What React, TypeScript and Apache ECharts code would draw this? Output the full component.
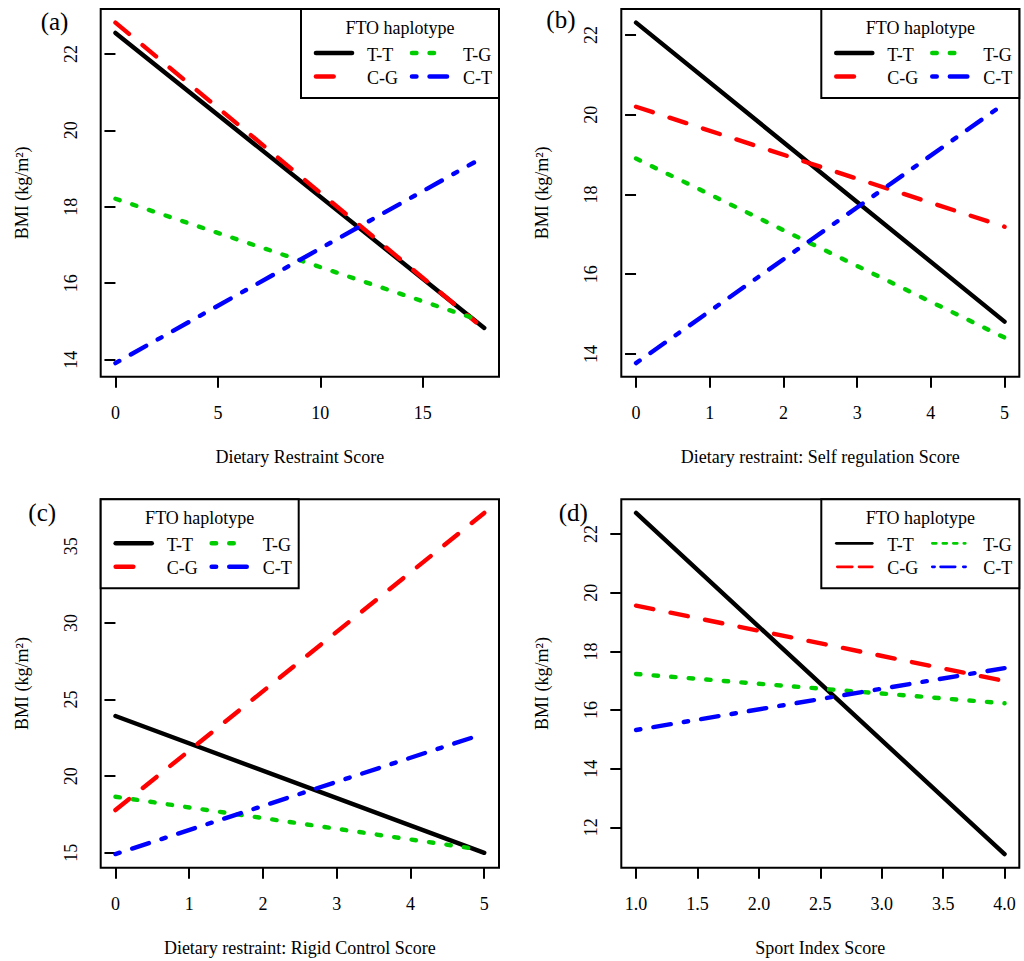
import React, { useEffect, useRef } from "react";
import * as echarts from "echarts";

// ---------- data ----------
const haplotypes = ["T-T", "C-G", "T-G", "C-T"];
const colors = ["#000000", "#FF0000", "#00CD00", "#0000FF"];

const xTicksA = [0, 5, 10, 15];
const yTicksA = [14, 16, 18, 20, 22];
const aTT = [[0, 22.55], [18, 14.83]];
const aCG = [[0, 22.82], [17.6, 14.98]];
const aTG = [[0, 18.21], [17.5, 15.08]];
const aCT = [[0, 13.91], [17.5, 19.16]];

const xTicksB = [0, 1, 2, 3, 4, 5];
const yTicksB = [14, 16, 18, 20, 22];
const bTT = [[0, 22.31], [5, 14.81]];
const bCG = [[0, 20.2], [5, 17.19]];
const bTG = [[0, 18.9], [5, 14.41]];
const bCT = [[0, 13.77], [5, 20.28]];

const xTicksC = [0, 1, 2, 3, 4, 5];
const yTicksC = [15, 20, 25, 30, 35];
const cTT = [[0, 23.93], [5, 15.0]];
const cCG = [[0, 17.79], [5, 37.18]];
const cTG = [[0, 18.66], [4.85, 15.28]];
const cCT = [[0, 14.92], [4.85, 22.54]];

const xTicksD = [1.0, 1.5, 2.0, 2.5, 3.0, 3.5, 4.0];
const yTicksD = [12, 14, 16, 18, 20, 22];
const dTT = [[1, 22.72], [4, 11.09]];
const dCG = [[1, 19.56], [4, 16.99]];
const dTG = [[1, 17.23], [4, 16.23]];
const dCT = [[1, 15.32], [4, 17.43]];

const xTitles = [
  "Dietary Restraint Score",
  "Dietary restraint: Self regulation Score",
  "Dietary restraint: Rigid Control Score",
  "Sport Index Score",
];
const panelLabels = ["(a)", "(b)", "(c)", "(d)"];
const yTitle = "BMI (kg/m\u00B2)";
const legendTitle = "FTO haplotype";

// ---------- layout / style ----------
const FONT = "Liberation Serif";
const L = 4.4;
const dashes: any[] = ["solid", [4 * L, 4 * L], [L, 3 * L], [L, 3 * L, 4 * L, 3 * L]];

const panels = [
  { series: [aTT, aCG, aTG, aCT], xt: xTicksA, yt: yTicksA, grid: { left: 100.7, top: 9, width: 398.3, height: 367.7 }, legendSide: "right", fmt: (v: number) => String(v), label: [40.7, 21] },
  { series: [bTT, bCG, bTG, bCT], xt: xTicksB, yt: yTicksB, grid: { left: 621.3, top: 9, width: 398, height: 367.7 }, legendSide: "right", fmt: (v: number) => String(v), label: [546.3, 19] },
  { series: [cTT, cCG, cTG, cCT], xt: xTicksC, yt: yTicksC, grid: { left: 100.7, top: 499.3, width: 398.3, height: 368.4 }, legendSide: "left", fmt: (v: number) => String(v), label: [28.3, 512] },
  { series: [dTT, dCG, dTG, dCT], xt: xTicksD, yt: yTicksD, grid: { left: 621.3, top: 499.3, width: 398, height: 368.4 }, legendSide: "right", fmt: (v: number) => v.toFixed(1), label: [558.7, 512] },
];

function rRange(vals: number[]) {
  const mn = Math.min(...vals);
  const mx = Math.max(...vals);
  const e = (mx - mn) * 0.04;
  return [mn - e, mx + e];
}

function legendEls(left: number, top: number, thin: boolean) {
  const els: any[] = [];
  const W = 198;
  const H = 89;
  els.push({
    type: "rect",
    z: 100,
    shape: { x: left, y: top, width: W, height: H },
    style: { fill: "#ffffff", stroke: "#000000", lineWidth: 2 },
  });
  els.push({
    type: "text",
    z: 101,
    x: left + 99,
    y: top + 19,
    style: { text: legendTitle, fontSize: 18, fontFamily: FONT, fill: "#000", align: "center", verticalAlign: "middle" },
  });
  const thick = [
    { x1: 15, x2: 51, dash: null },
    { x1: 15, x2: 51, dash: [4 * L, 30] },
    { x1: 111, x2: 144, dash: [L, 3 * L] },
    { x1: 111, x2: 146, dash: [L, 3 * L, 4 * L, 3 * L] },
  ];
  const thinS = [
    { x1: 15, x2: 51, dash: null },
    { x1: 16, x2: 51, dash: [15, 6.7] },
    { x1: 111, x2: 144, dash: [4, 6.5] },
    { x1: 111, x2: 145, dash: [2.3, 6, 14.6, 8.1] },
  ];
  const specs = thin ? thinS : thick;
  const lw = thin ? 2.7 : 4.6;
  haplotypes.forEach((h, i) => {
    const col = i < 2 ? 0 : 1;
    const row = i % 2;
    const sp = specs[i];
    const ly = top + (row === 0 ? 44 : 67.5);
    const style: any = { stroke: colors[i], lineWidth: lw, lineCap: "round" };
    if (sp.dash) style.lineDash = sp.dash;
    els.push({
      type: "line",
      z: 101,
      shape: { x1: left + sp.x1, y1: ly, x2: left + sp.x2, y2: ly },
      style,
    });
    els.push({
      type: "text",
      z: 101,
      x: left + (col === 0 ? 66 : 162),
      y: top + (row === 0 ? 45.5 : 69),
      style: { text: h, fontSize: 18, fontFamily: FONT, fill: "#000", align: "left", verticalAlign: "middle" },
    });
  });
  return els;
}

function buildOption() {
  const grid: any[] = [];
  const xAxis: any[] = [];
  const yAxis: any[] = [];
  const series: any[] = [];
  const graphic: any[] = [];

  panels.forEach((p, i) => {
    grid.push({
      ...p.grid,
      show: true,
      borderColor: "#000",
      borderWidth: 2,
      backgroundColor: "transparent",
      containLabel: false,
    });
    const xs = p.series.flat().map((d) => d[0]);
    const ys = p.series.flat().map((d) => d[1]);
    const xr = rRange(xs);
    const yr = rRange(ys);
    xAxis.push({
      type: "value",
      gridIndex: i,
      min: xr[0],
      max: xr[1],
      axisLine: { show: false },
      splitLine: { show: false },
      axisTick: { show: true, length: 11, inside: false, lineStyle: { color: "#000", width: 2 }, customValues: p.xt },
      axisLabel: { customValues: p.xt, fontSize: 18, fontFamily: FONT, color: "#000", margin: 27, formatter: p.fmt },
      name: xTitles[i],
      nameLocation: "middle",
      nameGap: 71,
      nameTextStyle: { fontSize: 18, fontFamily: FONT, color: "#000" },
    });
    yAxis.push({
      type: "value",
      gridIndex: i,
      min: yr[0],
      max: yr[1],
      axisLine: { show: false },
      splitLine: { show: false },
      axisTick: { show: true, length: 11, inside: false, lineStyle: { color: "#000", width: 2 }, customValues: p.yt },
      axisLabel: { customValues: p.yt, fontSize: 18, fontFamily: FONT, color: "#000", margin: 21, rotate: 90 },
      name: yTitle,
      nameLocation: "middle",
      nameRotate: 90,
      nameGap: 70,
      nameTextStyle: { fontSize: 18, fontFamily: FONT, color: "#000" },
    });
    p.series.forEach((data, k) => {
      series.push({
        type: "line",
        name: haplotypes[k] + " " + panelLabels[i],
        xAxisIndex: i,
        yAxisIndex: i,
        data,
        symbol: "none",
        showSymbol: false,
        silent: true,
        lineStyle: { color: colors[k], width: L, type: dashes[k], cap: "round" },
        z: 2 + k,
      });
    });
    const gl = p.grid.left;
    const gt = p.grid.top;
    const legLeft = p.legendSide === "right" ? gl + p.grid.width - 198 : gl;
    graphic.push(...legendEls(legLeft, gt, i === 3));
    graphic.push({
      type: "text",
      z: 101,
      x: p.label[0],
      y: p.label[1],
      style: { text: panelLabels[i], fontSize: 25, fontFamily: FONT, fill: "#000", align: "left", verticalAlign: "middle" },
    });
  });

  return {
    animation: false,
    backgroundColor: "#ffffff",
    textStyle: { fontFamily: FONT },
    grid,
    xAxis,
    yAxis,
    series,
    graphic,
  };
}

export default function App() {
  const ref = useRef<HTMLDivElement>(null);
  useEffect(() => {
    document.body.style.margin = "0";
    if (!ref.current) return;
    const chart = echarts.init(ref.current, undefined, { renderer: "svg" });
    chart.setOption(buildOption());
    return () => {
      chart.dispose();
    };
  }, []);
  return <div ref={ref} style={{ width: 1024, height: 961 }} />;
}
